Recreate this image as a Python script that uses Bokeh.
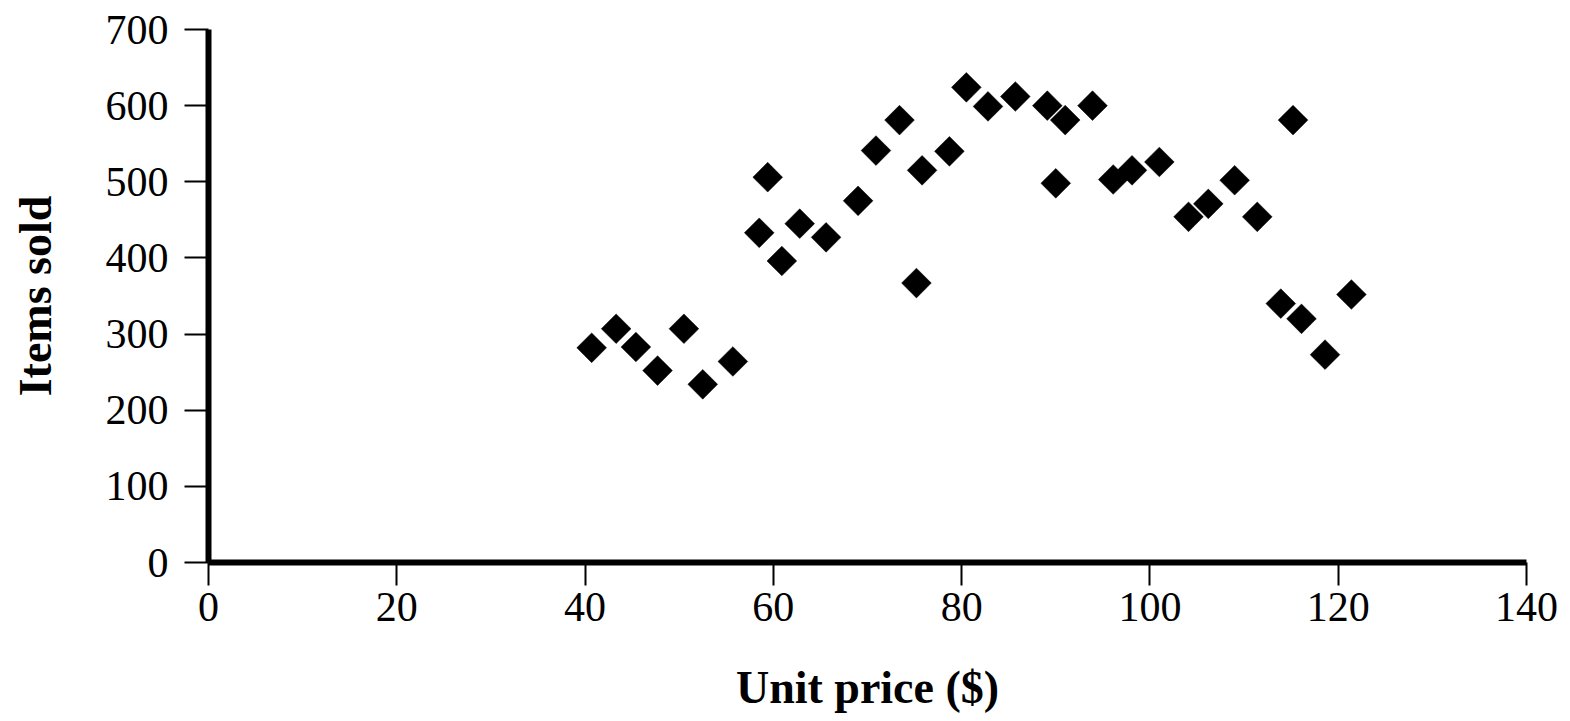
import math
from bokeh.plotting import figure
from bokeh.models import Range1d, FixedTicker
from bokeh.embed import file_html
from bokeh.resources import INLINE

# Data
unit_price = [40.7, 43.3, 45.4, 47.7, 50.5, 52.5, 55.7, 58.5, 59.4, 60.9,
              62.8, 65.6, 69.0, 70.9, 73.4, 75.2, 75.8, 78.7, 80.5, 82.8,
              85.7, 89.1, 91.0, 93.9, 90.0, 96.1, 98.1, 101.0, 104.1, 106.2,
              109.0, 111.4, 115.2, 113.9, 116.1, 118.6, 121.4]
items_sold = [282, 307, 283, 252, 307, 234, 264, 433, 506, 396,
              445, 427, 475, 541, 581, 367, 515, 540, 624, 599,
              612, 600, 581, 600, 498, 503, 515, 526, 454, 471,
              502, 454, 581, 340, 320, 273, 352]

x_ticks = [0, 20, 40, 60, 80, 100, 120, 140]
y_ticks = [0, 100, 200, 300, 400, 500, 600, 700]

FONT = "Liberation Serif"

p = figure(width=1566, height=716, output_backend="svg", toolbar_location=None,
           x_range=Range1d(0, 140), y_range=Range1d(0, 700),
           min_border_left=208, min_border_right=40,
           min_border_top=29, min_border_bottom=154)

p.scatter(unit_price, items_sold, marker="square", size=21, angle=math.pi / 4,
          fill_color="black", line_color="black", line_width=0.5)

p.xgrid.visible = False
p.ygrid.visible = False
p.outline_line_color = None
p.background_fill_color = "white"
p.border_fill_color = "white"

p.xaxis.ticker = FixedTicker(ticks=x_ticks)
p.yaxis.ticker = FixedTicker(ticks=y_ticks)

for ax in (p.xaxis, p.yaxis):
    ax.axis_line_width = 6
    ax.axis_line_color = "black"
    ax.major_tick_line_width = 2
    ax.major_tick_line_color = "black"
    ax.major_tick_in = 0
    ax.minor_tick_line_color = None
    ax.major_label_text_font = FONT
    ax.major_label_text_font_size = "42px"
    ax.major_label_text_color = "black"
    ax.axis_label_text_font = FONT
    ax.axis_label_text_font_size = "46px"
    ax.axis_label_text_font_style = "bold"
    ax.axis_label_text_color = "black"

p.yaxis.major_tick_out = 24
p.xaxis.major_tick_out = 23
p.yaxis.major_label_standoff = 16
p.xaxis.major_label_standoff = 7
p.yaxis.axis_label_standoff = 42
p.xaxis.axis_label_standoff = 38

p.xaxis.axis_label = "Unit price ($)"
p.yaxis.axis_label = "Items sold"

open("out.html", "w").write(file_html(p, INLINE))
